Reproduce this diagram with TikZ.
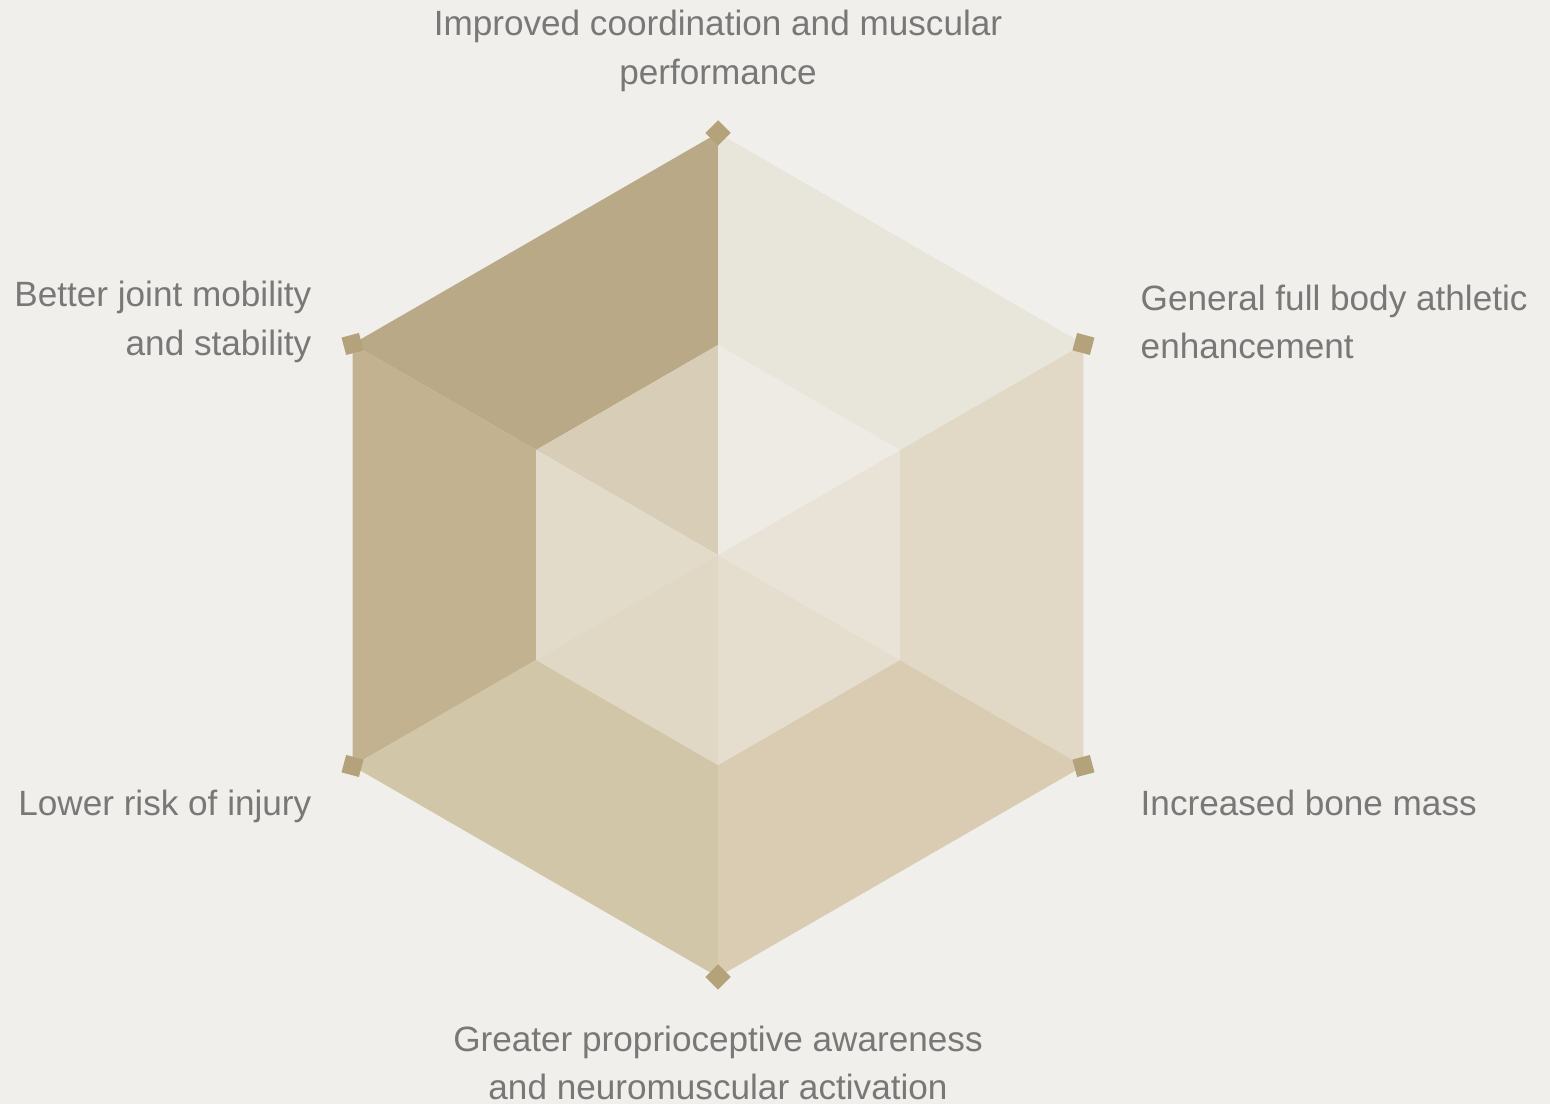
\documentclass[tikz,border=0pt]{standalone}
\usepackage{xcolor}
\usepackage{fontspec}
\setmainfont{Liberation Sans}
\usepackage{tikz}
\usetikzlibrary{shapes, positioning}

\definecolor{paper}{HTML}{F0EFEB}
\definecolor{labelgrey}{HTML}{787878}
\definecolor{markcol}{HTML}{B4A27A}
% outer band colours
\definecolor{sec1}{HTML}{BAA986}
\definecolor{sec2}{HTML}{C2B28F}
\definecolor{sec3}{HTML}{D2C6A8}
\definecolor{sec4}{HTML}{D9CCB2}
\definecolor{sec5}{HTML}{E1D8C6}
\definecolor{sec6}{HTML}{E8E5DA}
% inner triangle colours
\definecolor{in1}{HTML}{D8CDB6}
\definecolor{in2}{HTML}{E2DBCA}
\definecolor{in3}{HTML}{E0D8C5}
\definecolor{in4}{HTML}{E5DDCD}
\definecolor{in5}{HTML}{E8E3D6}
\definecolor{in6}{HTML}{EDEBE3}

\tikzset{
  marker/.style={rectangle, fill=markcol, inner sep=0pt, minimum size=0.18cm},
  benefit/.style={text=labelgrey, inner sep=0pt,
    font=\fontsize{10}{13.7}\selectfont}
}

\begin{document}
\begin{tikzpicture}
			% Background
			\fill[paper] (0,0) rectangle (15.5,11.04);
			\useasboundingbox (0,0) rectangle (15.5,11.04);

			% Corners
			\coordinate (c) at (7.18,5.49);
			\foreach \i/\a in {1/90,2/150,3/210,4/270,5/330,6/30} {
				\coordinate (o\i) at ([shift={(\a:4.22)}]c);
				\coordinate (n\i) at ([shift={(\a:2.10)}]c);
			}

			% Bands
			\foreach \i/\j in {1/2,2/3,3/4,4/5,5/6,6/1} {
				\fill[sec\i] (o\i) -- (o\j) -- (n\j) -- (n\i) -- cycle;
				\fill[in\i] (n\i) -- (n\j) -- (c) -- cycle;
			}

			% Markers
			\foreach \i/\a in {1/90,2/150,3/210,4/270,5/330,6/30}
				\node (m\i) [marker, rotate=\a-45] at (o\i) {};

			% Labels
			\node (top) [benefit, align=center] at (7.18,10.53)
				{Improved coordination and muscular\\performance};
			\node (ul) [benefit, align=right, anchor=east] at (3.12,7.82)
				{Better joint mobility\\and stability};
			\node (ur) [benefit, align=left, anchor=west] at (11.40,7.82)
				{General full body athletic\\enhancement};
			\node (ll) [benefit, anchor=base east] at (3.12,2.88) {Lower risk of injury};
			\node (lr) [benefit, anchor=base west] at (11.40,2.88) {Increased bone mass};
			\node (bot) [benefit, align=center] at (7.18,0.41)
				{Greater proprioceptive awareness\\and neuromuscular activation};

		\end{tikzpicture}
\end{document}
